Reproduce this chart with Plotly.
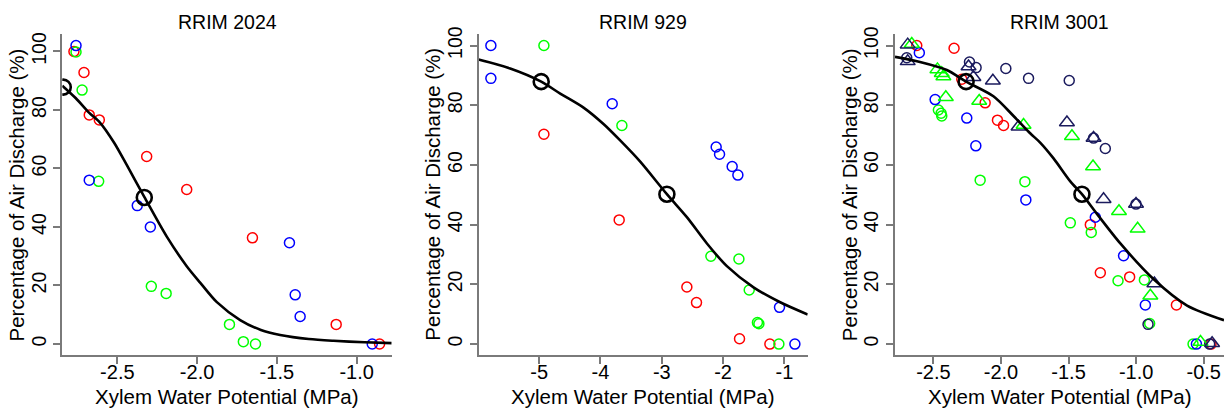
import plotly.graph_objects as go

W, H = 1225, 412

# ---------------- DATA ----------------
titles = ["RRIM 2024", "RRIM 929", "RRIM 3001"]
x_title = "Xylem Water Potential (MPa)"
y_title = "Percentage of Air Discharge (%)"

# Panel 1 : RRIM 2024
p1_red_x = [-2.772, -2.709, -2.676, -2.613, -2.316, -2.065, -1.653, -1.128, -0.856]
p1_red_y = [100.0, 92.8, 78.3, 76.6, 64.1, 52.8, 36.3, 6.7, 0.0]
p1_green_x = [-2.759, -2.721, -2.617, -2.287, -2.194, -1.797, -1.710, -1.634]
p1_green_y = [99.8, 86.8, 55.6, 19.7, 17.3, 6.7, 0.8, 0.0]
p1_blue_x = [-2.759, -2.676, -2.375, -2.293, -1.421, -1.385, -1.354, -0.902]
p1_blue_y = [102.0, 56.0, 47.3, 40.0, 34.6, 16.8, 9.4, 0.0]
p1_key_x = [-2.839, -2.331]
p1_key_y = [87.8, 50.1]
p1_fit_x = [-2.845, -2.760, -2.676, -2.609, -2.520, -2.441, -2.331, -2.190, -2.065,
            -1.981, -1.876, -1.730, -1.600, -1.479, -1.300, -1.145, -0.950, -0.780]
p1_fit_y = [88.3, 84.0, 79.0, 75.7, 68.8, 61.2, 50.3, 36.7, 26.6,
            21.0, 14.3, 8.2, 4.8, 3.1, 1.7, 1.1, 0.6, 0.3]

# Panel 2 : RRIM 929
p2_red_x = [-4.923, -3.695, -2.591, -2.434, -1.732, -1.237]
p2_red_y = [70.3, 41.6, 19.1, 13.9, 1.8, 0.0]
p2_green_x = [-4.923, -3.651, -2.199, -1.742, -1.574, -1.440, -1.416, -1.090]
p2_green_y = [100.0, 73.2, 29.4, 28.5, 18.1, 7.2, 6.8, 0.0]
p2_blue_x = [-5.788, -5.788, -3.809, -2.113, -2.058, -1.852, -1.759, -1.080, -0.829]
p2_blue_y = [100.0, 89.0, 80.5, 66.0, 63.6, 59.5, 56.6, 12.3, 0.0]
p2_key_x = [-4.967, -2.917]
p2_key_y = [87.9, 50.2]
p2_fit_x = [-5.990, -5.473, -4.967, -4.657, -4.277, -3.951, -3.679, -3.352, -2.917,
            -2.591, -2.264, -1.938, -1.504, -1.069, -0.620]
p2_fit_y = [95.3, 92.3, 87.9, 83.9, 79.2, 73.7, 68.2, 61.1, 50.2,
            42.5, 33.7, 26.1, 19.0, 14.0, 9.9]

# Panel 3 : RRIM 3001
p3_red_x = [-2.623, -2.347, -2.290, -2.117, -2.026, -1.981, -1.339, -1.265, -1.048, -0.702, -0.446]
p3_red_y = [100.0, 99.1, 88.7, 80.8, 75.0, 73.2, 40.0, 23.9, 22.5, 13.1, 0.0]
p3_green_x = [-2.463, -2.443, -2.438, -2.154, -1.823, -1.487, -1.332, -1.134, -0.939, -0.900, -0.579]
p3_green_y = [78.4, 77.3, 76.4, 54.9, 54.4, 40.6, 37.4, 21.2, 21.5, 6.9, 0.0]
p3_blue_x = [-2.604, -2.487, -2.253, -2.186, -1.816, -1.302, -1.093, -0.932, -0.554]
p3_blue_y = [97.6, 81.9, 75.7, 66.4, 48.3, 42.5, 29.6, 13.1, 0.0]
p3_navy_x = [-2.697, -2.233, -2.184, -1.964, -1.796, -1.495, -1.315, -1.228, -1.001, -0.912, -0.456]
p3_navy_y = [95.9, 94.5, 92.6, 92.3, 89.0, 88.3, 69.0, 65.5, 46.9, 6.6, 0.0]
p3_gtri_x = [-2.660, -2.470, -2.438, -2.426, -2.408, -2.161, -1.833, -1.475, -1.319, -1.127, -0.989, -0.895, -0.524]
p3_gtri_y = [100.5, 92.0, 90.7, 89.6, 82.7, 81.4, 73.4, 69.6, 59.5, 44.5, 38.6, 16.2, 0.7]
p3_ntri_x = [-2.690, -2.690, -2.240, -2.204, -2.060, -1.870, -1.512, -1.315, -1.241, -1.001, -0.865, -0.438]
p3_ntri_y = [100.3, 94.7, 93.0, 89.4, 88.2, 72.8, 74.2, 69.0, 48.5, 46.9, 20.3, 0.3]
p3_key_x = [-2.258, -1.401]
p3_key_y = [87.9, 50.2]
p3_fit_x = [-2.784, -2.599, -2.401, -2.258, -2.056, -1.907, -1.784, -1.710, -1.611,
            -1.487, -1.401, -1.290, -1.117, -0.870, -0.623, -0.350]
p3_fit_y = [96.2, 94.5, 91.8, 87.9, 83.0, 76.4, 70.6, 67.5, 62.2,
            54.5, 50.2, 43.6, 33.7, 21.7, 12.9, 8.0]

x_ticks = [[-2.5, -2.0, -1.5, -1.0], [-5, -4, -3, -2, -1], [-2.5, -2.0, -1.5, -1.0, -0.5]]
x_ticktext = [["-2.5", "-2.0", "-1.5", "-1.0"], ["-5", "-4", "-3", "-2", "-1"],
              ["-2.5", "-2.0", "-1.5", "-1.0", "-0.5"]]
y_ticks = [0, 20, 40, 60, 80, 100]
y_ticktext = ["0", "20", "40", "60", "80", "100"]

x_ranges = [[-2.845, -0.78], [-5.99, -0.62], [-2.784, -0.35]]
y_ranges = [[-3.8, 105.9], [-3.7, 103.8], [-3.7, 103.8]]

# ---------------- STYLE ----------------
RED, GREEN, BLUE, NAVY = "#FF0000", "#00FF00", "#0000FF", "#1B1B5E"
FONT = "Liberation Sans, Arial, sans-serif"
AXCOL = "#7a7a7a"

# pixel layout of each plot region (left, right), top, bottom
px_lr = [(62.3, 391.7), (478.5, 807.7), (895.0, 1224.0)]
py_top, py_bot = 26.7, 354.0

fig = go.Figure()


def add_pts(k, xs, ys, color, symbol="circle-open", size=10):
    ax = "" if k == 0 else str(k + 1)
    fig.add_trace(go.Scatter(
        x=xs, y=ys, mode="markers", xaxis="x" + ax, yaxis="y" + ax,
        marker=dict(symbol=symbol, size=size, color=color, line=dict(color=color, width=1.5)),
        showlegend=False, hoverinfo="x+y"))


def add_fit(k, xs, ys, kx, ky):
    ax = "" if k == 0 else str(k + 1)
    fig.add_trace(go.Scatter(
        x=xs, y=ys, mode="lines", xaxis="x" + ax, yaxis="y" + ax,
        line=dict(color="black", width=2.6, shape="spline", smoothing=0.8),
        showlegend=False))
    fig.add_trace(go.Scatter(
        x=kx, y=ky, mode="markers", xaxis="x" + ax, yaxis="y" + ax,
        marker=dict(symbol="circle-open", size=15, color="black", line=dict(color="black", width=2.6)),
        showlegend=False))


# panel 1
add_pts(0, p1_red_x, p1_red_y, RED)
add_pts(0, p1_green_x, p1_green_y, GREEN)
add_pts(0, p1_blue_x, p1_blue_y, BLUE)
add_fit(0, p1_fit_x, p1_fit_y, p1_key_x, p1_key_y)
# panel 2
add_pts(1, p2_red_x, p2_red_y, RED)
add_pts(1, p2_green_x, p2_green_y, GREEN)
add_pts(1, p2_blue_x, p2_blue_y, BLUE)
add_fit(1, p2_fit_x, p2_fit_y, p2_key_x, p2_key_y)
# panel 3
add_pts(2, p3_red_x, p3_red_y, RED)
add_pts(2, p3_green_x, p3_green_y, GREEN)
add_pts(2, p3_blue_x, p3_blue_y, BLUE)
add_pts(2, p3_navy_x, p3_navy_y, NAVY)
add_pts(2, p3_gtri_x, p3_gtri_y, GREEN, "triangle-up-open", 13)
add_pts(2, p3_ntri_x, p3_ntri_y, NAVY, "triangle-up-open", 13)
add_fit(2, p3_fit_x, p3_fit_y, p3_key_x, p3_key_y)

layout = dict(
    width=W, height=H,
    margin=dict(l=0, r=0, t=0, b=0),
    paper_bgcolor="white", plot_bgcolor="white",
    font=dict(family=FONT, color="black", size=20),
    showlegend=False,
)

annotations = []
for k in range(3):
    ax = "" if k == 0 else str(k + 1)
    l, r = px_lr[k]
    layout["xaxis" + ax] = dict(
        domain=[l / W, r / W], range=x_ranges[k], anchor="y" + ax,
        showgrid=False, zeroline=False, showline=True, linecolor=AXCOL, linewidth=2,
        ticks="outside", ticklen=7, tickwidth=1.5, tickcolor=AXCOL,
        tickvals=x_ticks[k], ticktext=x_ticktext[k], ticklabelstandoff=-9,
        tickfont=dict(family=FONT, size=20, color="black"), fixedrange=True)
    layout["yaxis" + ax] = dict(
        domain=[1 - py_bot / H, 1 - py_top / H], range=y_ranges[k], anchor="x" + ax,
        showgrid=False, zeroline=False, showline=True, linecolor=AXCOL, linewidth=2,
        ticks="outside", ticklen=7, tickwidth=1.5, tickcolor=AXCOL,
        tickvals=y_ticks, ticktext=y_ticktext, tickangle=-90,
        tickfont=dict(family=FONT, size=19.5, color="black"), fixedrange=True)
    cx = (l + r) / 2
    annotations.append(dict(text=titles[k], x=cx / W, y=1 - 14 / H, xref="paper", yref="paper",
                            xanchor="center", yanchor="middle", showarrow=False,
                            font=dict(family=FONT, size=19.5, color="black")))
    annotations.append(dict(text=x_title, x=cx / W, y=1 - 396 / H, xref="paper", yref="paper",
                            xanchor="center", yanchor="middle", showarrow=False,
                            font=dict(family=FONT, size=20.5, color="black")))
    annotations.append(dict(text=y_title, x=(l - 45.5) / W, y=1 - ((py_top + py_bot) / 2) / H,
                            xref="paper", yref="paper", textangle=-90,
                            xanchor="center", yanchor="middle", showarrow=False,
                            font=dict(family=FONT, size=20.5, color="black")))

layout["annotations"] = annotations
fig.update_layout(**layout)
fig.write_html("out.html", config={"displayModeBar": False, "responsive": False})

# remove the default page margin so the figure sits at the window's top-left corner
with open("out.html", "r", encoding="utf-8") as f:
    html = f.read()
html = html.replace("<head>", "<head><style>html,body{margin:0;padding:0;overflow:hidden;}</style>", 1)
with open("out.html", "w", encoding="utf-8") as f:
    f.write(html)
